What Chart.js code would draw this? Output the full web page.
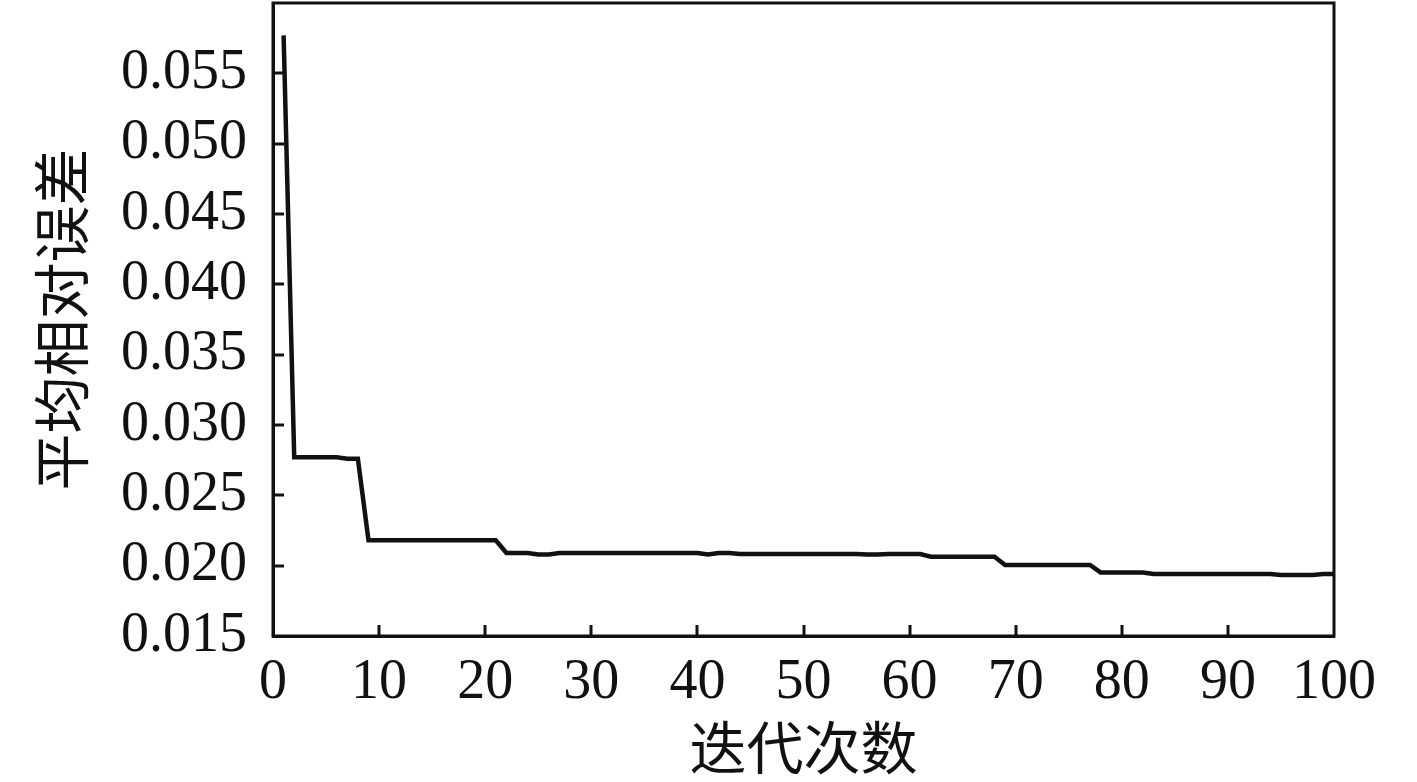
<!DOCTYPE html>
<html>
<head>
<meta charset="utf-8">
<script src="https://cdn.jsdelivr.net/npm/chart.js@4/dist/chart.umd.min.js"></script>
<style>
  html, body { margin: 0; padding: 0; background: #fff; }
  #wrap { width: 1417px; height: 782px; }
</style>
</head>
<body>
<div id="wrap"><canvas id="chart" width="1417" height="782"></canvas></div>
<script>
  'use strict';

  // 平均相对误差, one value per iteration (1..100)
  var errors = [
    0.0577,
    0.0277, 0.0277, 0.0277, 0.0277, 0.0277,
    0.0276, 0.0276,
    0.0218, 0.0218, 0.0218, 0.0218, 0.0218, 0.0218, 0.0218, 0.0218, 0.0218, 0.0218, 0.0218, 0.0218, 0.0218,
    0.0209, 0.0209, 0.0209,
    0.0208, 0.0208,
    0.0209, 0.0209, 0.0209, 0.0209, 0.0209, 0.0209, 0.0209, 0.0209, 0.0209, 0.0209, 0.0209, 0.0209, 0.0209, 0.0209,
    0.0208,
    0.0209, 0.0209,
    0.02083, 0.02083, 0.02083, 0.02083, 0.02083, 0.02083, 0.02083, 0.02083, 0.02083, 0.02083, 0.02083, 0.02083,
    0.0208, 0.0208,
    0.02083, 0.02083, 0.02083, 0.02083,
    0.02064, 0.02064, 0.02064, 0.02064, 0.02064, 0.02064, 0.02064,
    0.02005, 0.02005, 0.02005, 0.02005, 0.02005, 0.02005, 0.02005, 0.02005, 0.02005,
    0.01952, 0.01952, 0.01952, 0.01952, 0.01952,
    0.01941, 0.01941, 0.01941, 0.01941, 0.01941, 0.01941, 0.01941, 0.01941, 0.01941, 0.01941, 0.01941, 0.01941,
    0.01933, 0.01933, 0.01933, 0.01933,
    0.01941, 0.01941
  ];
  var xTicks = [0, 10, 20, 30, 40, 50, 60, 70, 80, 90, 100];
  var yTicks = [0.015, 0.020, 0.025, 0.030, 0.035, 0.040, 0.045, 0.050, 0.055, 0.060];
  var xTitle = '迭代次数';
  var yTitle = '平均相对误差';

  var FONT = "'Liberation Serif', 'Noto Sans CJK SC', serif";
  var INK = '#111';

  var points = errors.map(function (v, i) { return { x: i + 1, y: v }; });

  // box round the plot and short ticks pointing inwards
  var frame = {
    id: 'frame',
    afterDatasetsDraw: function (chart) {
      var a = chart.chartArea, ctx = chart.ctx;
      var sx = chart.scales.x, sy = chart.scales.y;
      ctx.save();
      ctx.strokeStyle = INK;
      ctx.lineWidth = 3;
      ctx.strokeRect(a.left, a.top, a.right - a.left, a.bottom - a.top);
      ctx.beginPath();
      xTicks.forEach(function (t) {
        if (t === xTicks[0] || t === xTicks[xTicks.length - 1]) return;
        var px = Math.round(sx.getPixelForValue(t));
        ctx.moveTo(px, a.bottom);
        ctx.lineTo(px, a.bottom - 11);
      });
      yTicks.forEach(function (t, i) {
        if (i === 0 || i === yTicks.length - 1) return;
        var py = Math.round(sy.getPixelForValue(t));
        ctx.moveTo(a.left, py);
        ctx.lineTo(a.left + 11, py);
      });
      ctx.stroke();
      ctx.restore();
    }
  };

  new Chart(document.getElementById('chart'), {
    type: 'line',
    data: {
      datasets: [{
        data: points,
        borderColor: INK,
        borderWidth: 4.5,
        pointRadius: 0,
        tension: 0,
        fill: false
      }]
    },
    options: {
      responsive: false,
      animation: false,
      layout: { autoPadding: false, padding: { top: 3, right: 83, left: 0, bottom: 0 } },
      plugins: { legend: { display: false }, tooltip: { enabled: false } },
      scales: {
        x: {
          type: 'linear',
          min: 0,
          max: 100,
          afterFit: function (s) {
            s.height = 146;
            s.paddingLeft = 0; s.paddingRight = 0; s.paddingTop = 0; s.paddingBottom = 0;
          },
          afterBuildTicks: function (s) { s.ticks = xTicks.map(function (v) { return { value: v }; }); },
          ticks: {
            color: INK,
            font: { family: FONT, size: 56 },
            padding: 14,
            maxRotation: 0,
            autoSkip: false
          },
          grid: { display: false, drawTicks: false },
          border: { color: INK, width: 3 },
          title: {
            display: true,
            text: xTitle,
            color: INK,
            font: { family: FONT, size: 57, lineHeight: 1 },
            padding: { top: 0, bottom: -1 }
          }
        },
        y: {
          min: 0.015,
          max: 0.06,
          afterFit: function (s) {
            s.width = 273;
            s.paddingLeft = 0; s.paddingRight = 0; s.paddingTop = 0; s.paddingBottom = 0;
          },
          afterBuildTicks: function (s) { s.ticks = yTicks.map(function (v) { return { value: v }; }); },
          ticks: {
            color: INK,
            font: { family: FONT, size: 56 },
            padding: 26,
            autoSkip: false,
            callback: function (v) { return v >= 0.0599 ? '' : v.toFixed(3); }
          },
          grid: { display: false, drawTicks: false },
          border: { color: INK, width: 3 },
          title: {
            display: true,
            text: yTitle,
            color: INK,
            font: { family: FONT, size: 57, lineHeight: 1 },
            padding: { top: 40, bottom: 0 }
          }
        }
      }
    },
    plugins: [frame]
  });
</script>
</body>
</html>
